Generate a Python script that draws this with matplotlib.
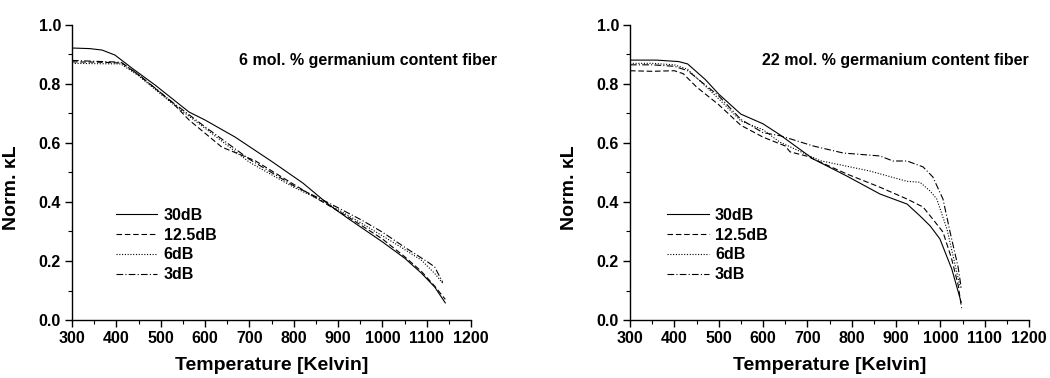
import matplotlib
matplotlib.use("Agg")
import matplotlib.pyplot as plt
from matplotlib.ticker import MultipleLocator, FormatStrFormatter

plt.rcParams['font.family'] = ['Liberation Sans', 'DejaVu Sans']
plt.rcParams['font.weight'] = 'bold'

labels = ["30dB", "12.5dB", "6dB", "3dB"]
styles = ["-", (0, (5, 2.5)), (0, (1, 1.5)), (0, (6, 2, 1, 2))]

# 6 mol. % germanium fiber
t6_30 = [300, 340, 368, 397, 435, 487, 564, 600, 668, 751, 821, 880, 922, 1000, 1050, 1088, 1118, 1142]
k6_30 = [0.922, 0.920, 0.915, 0.898, 0.854, 0.797, 0.705, 0.678, 0.620, 0.537, 0.464, 0.390, 0.345, 0.265, 0.210, 0.159, 0.112, 0.058]
t6_12 = [300, 360, 413, 451, 525, 564, 638, 713, 800, 860, 920, 1000, 1050, 1088, 1118, 1142]
k6_12 = [0.875, 0.874, 0.871, 0.830, 0.739, 0.678, 0.586, 0.540, 0.460, 0.405, 0.352, 0.275, 0.215, 0.165, 0.115, 0.070]
t6_6 = [300, 350, 410, 450, 525, 600, 700, 800, 870, 953, 1028, 1088, 1118, 1136]
k6_6 = [0.870, 0.869, 0.868, 0.828, 0.735, 0.650, 0.535, 0.450, 0.400, 0.328, 0.260, 0.203, 0.158, 0.125]
t6_3 = [300, 350, 410, 450, 525, 600, 700, 800, 875, 953, 1000, 1050, 1102, 1118, 1136]
k6_3 = [0.880, 0.877, 0.874, 0.832, 0.740, 0.655, 0.545, 0.455, 0.400, 0.339, 0.298, 0.247, 0.197, 0.180, 0.128]

# 22 mol. % germanium fiber
t22_30 = [300, 360, 410, 430, 470, 500, 550, 600, 638, 713, 789, 864, 925, 954, 977, 999, 1026, 1047]
k22_30 = [0.881, 0.881, 0.876, 0.868, 0.815, 0.766, 0.698, 0.665, 0.628, 0.546, 0.488, 0.427, 0.393, 0.353, 0.319, 0.275, 0.172, 0.060]
t22_12 = [300, 350, 400, 420, 450, 500, 550, 600, 650, 661, 700, 789, 864, 925, 961, 983, 1006, 1025, 1040, 1048]
k22_12 = [0.845, 0.843, 0.845, 0.835, 0.790, 0.730, 0.660, 0.620, 0.590, 0.570, 0.555, 0.495, 0.450, 0.410, 0.383, 0.342, 0.298, 0.210, 0.120, 0.040]
t22_6 = [300, 350, 400, 430, 500, 550, 600, 638, 729, 841, 925, 954, 977, 992, 1015, 1045]
k22_6 = [0.870, 0.870, 0.865, 0.850, 0.750, 0.675, 0.645, 0.603, 0.540, 0.505, 0.470, 0.467, 0.437, 0.410, 0.308, 0.110]
t22_3 = [300, 350, 400, 430, 500, 550, 600, 638, 713, 781, 864, 893, 925, 961, 983, 1006, 1022, 1040, 1047]
k22_3 = [0.865, 0.865, 0.860, 0.845, 0.760, 0.680, 0.635, 0.625, 0.590, 0.566, 0.556, 0.539, 0.539, 0.519, 0.485, 0.410, 0.298, 0.180, 0.110]

panels = [
    ([(t6_30, k6_30), (t6_12, k6_12), (t6_6, k6_6), (t6_3, k6_3)],
     "6 mol. % germanium content fiber", 677, 0.110),
    ([(t22_30, k22_30), (t22_12, k22_12), (t22_6, k22_6), (t22_3, k22_3)],
     "22 mol. % germanium content fiber", 597, 0.093),
]

fig = plt.figure(figsize=(10.5, 3.78), dpi=100)
lefts = [72 / 1050, 630 / 1050]

for (series, title, tx, lx), left in zip(panels, lefts):
    ax = fig.add_axes([left, 58 / 378, 399 / 1050, 295 / 378])
    for (t, k), lab, ls in zip(series, labels, styles):
        ax.plot(t, k, color="black", lw=0.8, linestyle=ls, label=lab)
    ax.set_xlim(300, 1200)
    ax.set_ylim(0, 1.0)
    ax.xaxis.set_major_locator(MultipleLocator(100))
    ax.xaxis.set_minor_locator(MultipleLocator(50))
    ax.yaxis.set_major_locator(MultipleLocator(0.2))
    ax.yaxis.set_minor_locator(MultipleLocator(0.1))
    ax.yaxis.set_major_formatter(FormatStrFormatter('%.1f'))
    ax.spines['top'].set_visible(False)
    ax.spines['right'].set_visible(False)
    for s in ['left', 'bottom']:
        ax.spines[s].set_linewidth(1.0)
    ax.tick_params(which='major', direction='out', length=5, width=1.0, labelsize=11.5, pad=3)
    ax.tick_params(which='minor', direction='out', length=3, width=0.8)
    for lbl in ax.get_xticklabels() + ax.get_yticklabels():
        lbl.set_fontweight('bold')
    ax.set_xlabel("Temperature [Kelvin]", fontsize=14, fontweight='bold', labelpad=8)
    ax.set_ylabel("Norm. κL", fontsize=14, fontweight='bold')
    ax.yaxis.set_label_coords(-0.13, 0.45)
    ax.text(tx, 0.88, title, fontsize=11.5, fontweight='bold', ha='left', va='center')
    ax.legend(loc='upper left', bbox_to_anchor=(lx, 0.38), frameon=False,
              fontsize=11.5, handlelength=2.6, handletextpad=0.4,
              labelspacing=0.3, borderpad=0, borderaxespad=0)

fig.savefig("out.png", dpi=100)
